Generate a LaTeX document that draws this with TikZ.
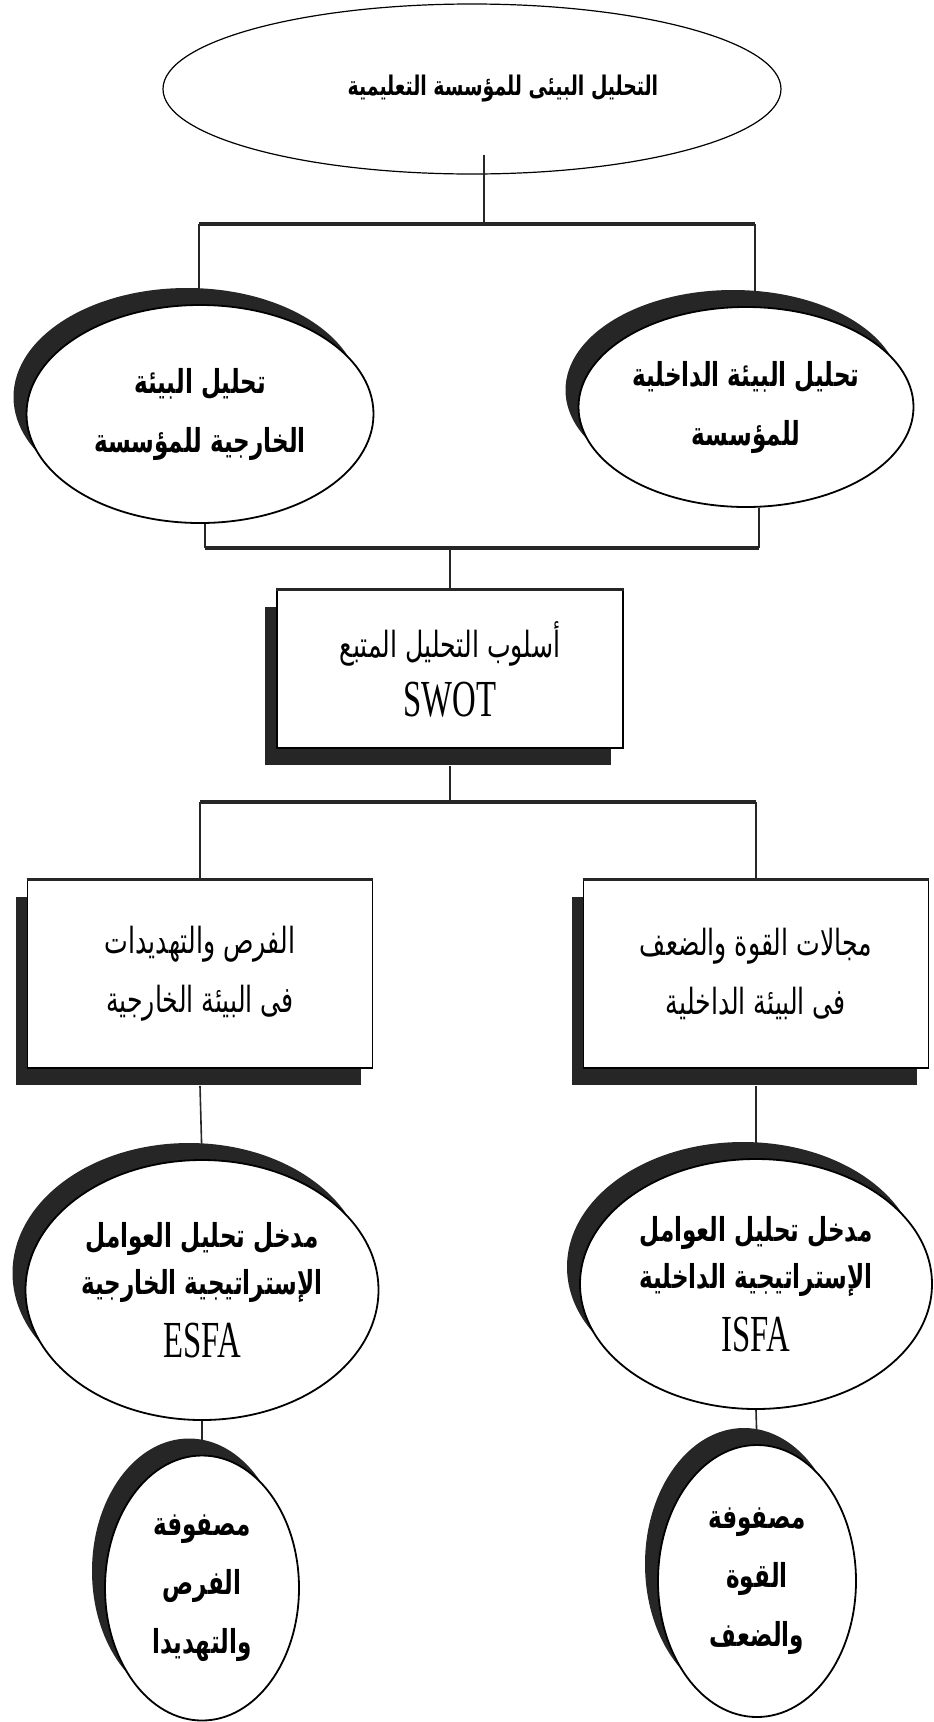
\documentclass[tikz,border=0pt]{standalone}
\usepackage{fontspec}
\usetikzlibrary{shapes.geometric,shadows}
\TeXXeTstate=1
\newfontfamily\arabicfont[Script=Arabic,FakeStretch=0.7]{DejaVu Sans}
\newfontfamily\swotfont[FakeStretch=0.63]{Liberation Serif}
\newcommand{\rl}[1]{\beginR #1\endR}
\newcommand{\lt}[1]{{\mdseries\swotfont\fontsize{52}{58}\selectfont #1}}

\begin{document}
\begin{tikzpicture}[x=1pt,y=-1pt,
    link/.style={line width=1.6pt, draw=black!85},
    bus/.style={line width=4.5pt, draw=black!85},
    boxtop/.style={line width=3.2pt, draw=black!85},
    plainoval/.style={ellipse, draw, line width=1.2pt, fill=white, align=center, inner sep=0pt},
    oval/.style={plainoval, line width=1.8pt, ovaltext,
        drop shadow={shadow xshift=-13pt, shadow yshift=17pt, fill=black!85, opacity=1}},
    panel/.style={rectangle, draw, line width=1.8pt, fill=white, align=center, inner sep=0pt, artext,
        drop shadow={shadow xshift=-12pt, shadow yshift=-17pt, fill=black!85, opacity=1}},
    artext/.style={font=\arabicfont\fontsize{36}{59}\selectfont},
    ovaltext/.style={font=\arabicfont\bfseries\fontsize{33}{59}\selectfont}]
            \useasboundingbox (0,0) rectangle (934,1722);

            % level 1
            \node[plainoval, minimum width=618pt, minimum height=170pt,
                font=\arabicfont\bfseries\fontsize{27}{30}\selectfont] (env) at (472,89)
                {\hspace*{62pt}\rl{التحليل البيئى للمؤسسة التعليمية}};

            % level 2
            \node[oval, minimum width=347pt, minimum height=218pt] (ext) at (200,414)
                {\rl{تحليل البيئة}\\\rl{الخارجية للمؤسسة}};
            \node[oval, minimum width=335pt, minimum height=200pt] (int) at (746,407)
                {\rl{تحليل البيئة الداخلية}\\\rl{للمؤسسة}};

            \coordinate (busa) at (484,224);
            \coordinate (busal) at (199,224);
            \coordinate (busar) at (755,224);
            \draw[link] ([yshift=20pt]env.south -| busa) -- (busa);
            \draw[bus] (busal) -- (busar);
            \draw[link] (busal) -- (busal |- ext.north);
            \draw[link] (busar) -- (busar |- int.north);

            % SWOT
            \node[panel, minimum width=346pt, minimum height=158pt] (swot) at (450,669)
                {\rl{أسلوب التحليل المتبع}\\\lt{SWOT}};
            \draw[boxtop] (swot.north west) -- (swot.north east);

            \coordinate (busbl) at (205,548);
            \coordinate (busbr) at (759,548);
            \draw[link] (ext.south -| busbl) -- (busbl);
            \draw[link] (int.south -| busbr) -- (busbr);
            \draw[bus] (busbl) -- (busbr);
            \draw[link] (swot.north |- busbl) -- (swot.north);

            % level 3
            \node[panel, minimum width=345pt, minimum height=188pt] (opp) at (200,974)
                {\rl{الفرص والتهديدات}\\\rl{فى البيئة الخارجية}};
            \node[panel, minimum width=345pt, minimum height=188pt] (str) at (756,974)
                {\rl{مجالات القوة والضعف}\\\rl{فى البيئة الداخلية}};
            \draw[boxtop] (opp.north west) -- (opp.north east);
            \draw[boxtop] (str.north west) -- (str.north east);

            \coordinate (busc) at (450,802);
            \draw[link] ([yshift=-17pt]swot.south) -- (busc);
            \draw[bus] (opp.north |- busc) -- (str.north |- busc);
            \draw[link] (opp.north |- busc) -- (opp.north);
            \draw[link] (str.north |- busc) -- (str.north);

            % level 4
            \node[oval, minimum width=353pt, minimum height=260pt] (esfa) at (202,1290)
                {\rl{مدخل تحليل العوامل}\\[-12pt]\rl{الإستراتيجية الخارجية}\\[4pt]\lt{ESFA}};
            \node[oval, minimum width=352pt, minimum height=250pt] (isfa) at (756,1284)
                {\rl{مدخل تحليل العوامل}\\[-12pt]\rl{الإستراتيجية الداخلية}\\[4pt]\lt{ISFA}};

            \draw[link] ([yshift=-17pt]opp.south) -- (esfa.north);
            \draw[link] ([yshift=-17pt]str.south) -- (isfa.north);

            % level 5
            \node[oval, minimum width=194pt, minimum height=265pt] (oppmat) at (202,1588)
                {\rl{مصفوفة}\\\rl{الفرص}\\\rl{والتهديدا}};
            \node[oval, minimum width=198pt, minimum height=272pt] (strmat) at (757,1581)
                {\rl{مصفوفة}\\\rl{القوة}\\\rl{والضعف}};

            \draw[link] (esfa.south) -- (oppmat.north);
            \draw[link] (isfa.south) -- (strmat.north);
        \end{tikzpicture}
\end{document}
